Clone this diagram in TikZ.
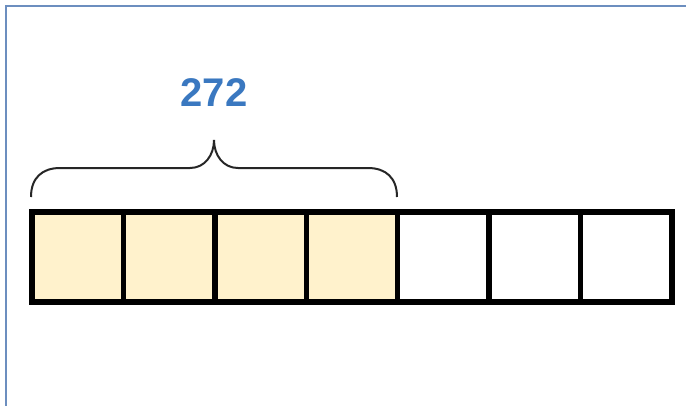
\documentclass[tikz,border=0pt]{standalone}
\usepackage{fontspec}
\setmainfont{Liberation Sans}
\definecolor{cellfill}{HTML}{FFF2CC}
\definecolor{framec}{HTML}{6C8EBF}
\definecolor{numc}{HTML}{3A78C0}
\begin{document}
\begin{tikzpicture}[x=1pt,y=-1pt,
  cell/.style={draw=black,line width=5.5pt,minimum width=91.43pt,minimum height=90pt,inner sep=0pt,outer sep=0pt,anchor=north west},
  filled/.style={cell,fill=cellfill},
  bracec/.style={draw=black!85,line width=2pt},
  numlabel/.style={font=\bfseries\fontsize{40}{40}\selectfont,text=numc}]
\useasboundingbox (0,0) rectangle (686,405);
\fill[white] (0,0) rectangle (686,405);
\draw[framec,line width=1.5pt] (6,410) -- (6,6) -- (690,6);
\foreach \i in {0,...,6}{
  \ifnum\i<4
    \node[filled] (c\i) at ({32+\i*91.43},212) {};
  \else
    \node[cell] (c\i) at ({32+\i*91.43},212) {};
  \fi
}
\draw[line width=6pt] (c0.north west) rectangle (c6.south east);
\coordinate (bl) at (31,197);
\coordinate (br) at (397,197);
\coordinate (tip) at (214,140);
\draw[bracec] (bl) .. controls (31,178) and (42,168) .. (60,168) -- (190,168)
  .. controls (205,168) and (214,155) .. (tip)
  .. controls (214,155) and (223,168) .. (238,168) -- (368,168)
  .. controls (386,168) and (397,178) .. (br);
\node[numlabel] (lbl) at (214,93) {272};
\end{tikzpicture}
\end{document}
